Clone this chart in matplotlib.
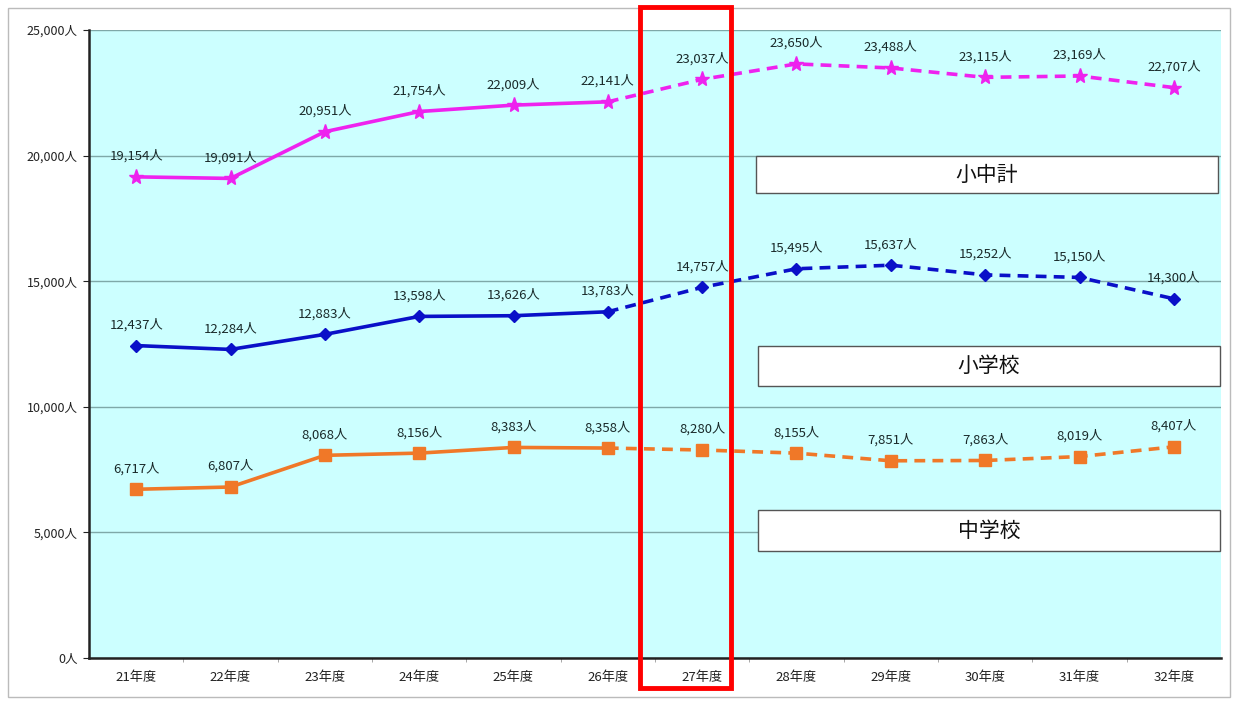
import matplotlib
matplotlib.use("Agg")
import matplotlib.pyplot as plt
from matplotlib.patches import Rectangle
from matplotlib.ticker import FuncFormatter, MultipleLocator, FixedLocator

plt.rcParams['font.family'] = ['Noto Sans CJK JP', 'DejaVu Sans']

years = ["21年度", "22年度", "23年度", "24年度", "25年度", "26年度",
         "27年度", "28年度", "29年度", "30年度", "31年度", "32年度"]
total = [19154, 19091, 20951, 21754, 22009, 22141, 23037, 23650, 23488, 23115, 23169, 22707]
primary = [12437, 12284, 12883, 13598, 13626, 13783, 14757, 15495, 15637, 15252, 15150, 14300]
middle = [6717, 6807, 8068, 8156, 8383, 8358, 8280, 8155, 7851, 7863, 8019, 8407]
box_labels = ["小中計", "小学校", "中学校"]
actual_count = 6  # 21-26年度 are actual values, rest projected

W, H = 1241, 702
fig = plt.figure(figsize=(W / 100, H / 100), dpi=100)
fig.patch.set_facecolor("white")

L, R, T, B = 89, 1221, 30, 658
ax = fig.add_axes([L / W, 1 - B / H, (R - L) / W, (B - T) / H])
ax.set_facecolor("#CCFFFF")

x = list(range(len(years)))
series = [
    (total, "#EE22EE", "*", 11),
    (primary, "#0A10C8", "D", 6.5),
    (middle, "#F07828", "s", 9),
]
for vals, col, mk, ms in series:
    a = actual_count
    ax.plot(x[:a], vals[:a], color=col, lw=2.6, solid_capstyle="round", zorder=3)
    ax.plot(x[a - 1:], vals[a - 1:], color=col, lw=2.6, ls=(0, (3, 2)), zorder=3)
    ax.plot(x, vals, ls="none", marker=mk, ms=ms, color=col, mec=col, zorder=4)
    for xi, v in zip(x, vals):
        ax.annotate(f"{v:,}人", (xi, v), xytext=(0, 10), textcoords="offset points",
                    ha="center", va="bottom", fontsize=9.5, color="#1A2A2A", zorder=5)

ax.set_xlim(-0.5, len(years) - 0.5)
ax.set_ylim(0, 25000)
ax.yaxis.set_major_locator(MultipleLocator(5000))
ax.yaxis.set_major_formatter(FuncFormatter(lambda v, p: f"{int(v):,}人"))
ax.set_xticks(x)
ax.set_xticklabels(years)
ax.xaxis.set_minor_locator(FixedLocator([i + 0.5 for i in range(len(years) - 1)]))
ax.tick_params(axis="x", which="major", length=0, pad=9, labelsize=9.5, colors="#222222")
ax.tick_params(axis="x", which="minor", length=3, color="#999999")
ax.tick_params(axis="y", length=4, pad=4, labelsize=9, colors="#222222")
ax.grid(axis="y", color="#7FA8A8", lw=1.0)
ax.set_axisbelow(True)
for s in ["top", "right"]:
    ax.spines[s].set_visible(False)
ax.spines["left"].set_color("#222222")
ax.spines["left"].set_linewidth(1.8)
ax.spines["bottom"].set_color("#222222")
ax.spines["bottom"].set_linewidth(1.8)

# label boxes (pixel positions of the boxes in the reference)
boxes = [(756, 156, 1218, 193), (758, 346, 1220, 386), (758, 510, 1220, 551)]
for (x0, y0, x1, y1), lab in zip(boxes, box_labels):
    fig.patches.append(Rectangle((x0 / W, 1 - y1 / H), (x1 - x0) / W, (y1 - y0) / H,
                                 transform=fig.transFigure, facecolor="white",
                                 edgecolor="#555555", lw=1.0, zorder=6))
    fig.text((x0 + x1) / 2 / W, 1 - (y0 + y1) / 2 / H, lab, ha="center", va="center",
             fontsize=15, color="#111111", zorder=7)

# outer frame
fig.patches.append(Rectangle((8 / W, 1 - 697 / H), 1222 / W, 689 / H, transform=fig.transFigure,
                             facecolor="none", edgecolor="#BBBBBB", lw=1.0, zorder=1))

# red highlight around 27年度
fig.patches.append(Rectangle((640 / W, 1 - 688 / H), 91 / W, 681 / H, transform=fig.transFigure,
                             facecolor="none", edgecolor="#FF0000", lw=3.5, zorder=10))

fig.savefig("out.png", dpi=100)
